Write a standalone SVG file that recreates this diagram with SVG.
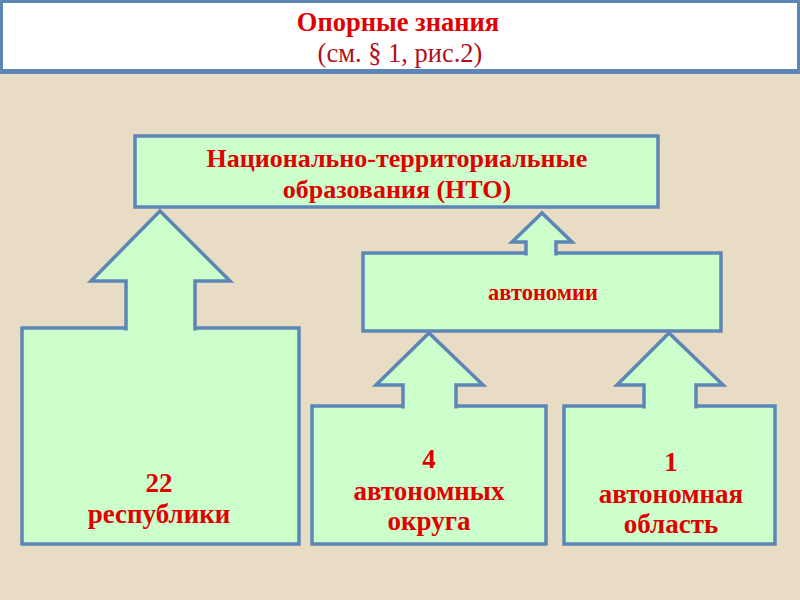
<svg xmlns="http://www.w3.org/2000/svg" width="800" height="600" viewBox="0 0 800 600">
<style>
.node{fill:#ccffcc;stroke:#5b86b5;stroke-width:3.5;stroke-linejoin:miter}
.conn{fill:#ccffcc;stroke:#5b86b5;stroke-width:3.5;stroke-linejoin:miter}
.t{font-family:"Liberation Serif","Times New Roman",serif;font-weight:bold;fill:#e00000;text-anchor:middle}
.h{font-family:"Liberation Serif","Times New Roman",serif;text-anchor:middle;font-size:26.5px}
</style>
<rect x="0" y="0" width="800" height="600" fill="#e9dcc4"/>
<g id="header">
<rect x="1.5" y="1.5" width="797" height="69" fill="#ffffff" stroke="#5b86b5" stroke-width="3"/>
<rect x="0" y="69" width="800" height="5" fill="#5b86b5"/>
<text class="h" x="398" y="31" font-weight="bold" fill="#e00000">Опорные знания</text>
<text class="h" x="400" y="62" fill="#b01018">(см. § 1, рис.2)</text>
</g>
<g id="nto">
<rect class="node" x="135" y="136" width="523" height="71"/>
<text class="t" x="397" y="167" font-size="26">Национально-территориальные</text>
<text class="t" x="397" y="198" font-size="26">образования (НТО)</text>
</g>
<g id="avtonomii">
<rect class="node" x="363" y="253" width="358" height="78"/>
<text class="t" x="543" y="300" font-size="22.5">автономии</text>
</g>
<g id="respubliki">
<rect class="node" x="22" y="328" width="277" height="216"/>
<text class="t" x="159" y="492" font-size="27">22</text>
<text class="t" x="159" y="523" font-size="27">республики</text>
</g>
<g id="okruga">
<rect class="node" x="312" y="406" width="234" height="138"/>
<text class="t" x="429" y="468" font-size="27">4</text>
<text class="t" x="429" y="500" font-size="27">автономных</text>
<text class="t" x="429" y="530" font-size="27">округа</text>
</g>
<g id="oblast">
<rect class="node" x="564" y="406" width="211" height="138"/>
<text class="t" x="671" y="471" font-size="27">1</text>
<text class="t" x="671" y="503" font-size="27">автономная</text>
<text class="t" x="671" y="533" font-size="27">область</text>
</g>
<g id="connectors">
<path class="conn" d="M126,330.5 V281 H91 L160,211 L230,281 H195 V330.5"/>
<path class="conn" d="M403,408.5 V385 H376 L429,333 L483,385 H456 V408.5"/>
<path class="conn" d="M644,408.5 V385 H617 L669,333 L723,385 H696 V408.5"/>
<path class="conn" d="M526,255.5 V242 H512 L542,213 L572,242 H556 V255.5"/>
</g>
</svg>
